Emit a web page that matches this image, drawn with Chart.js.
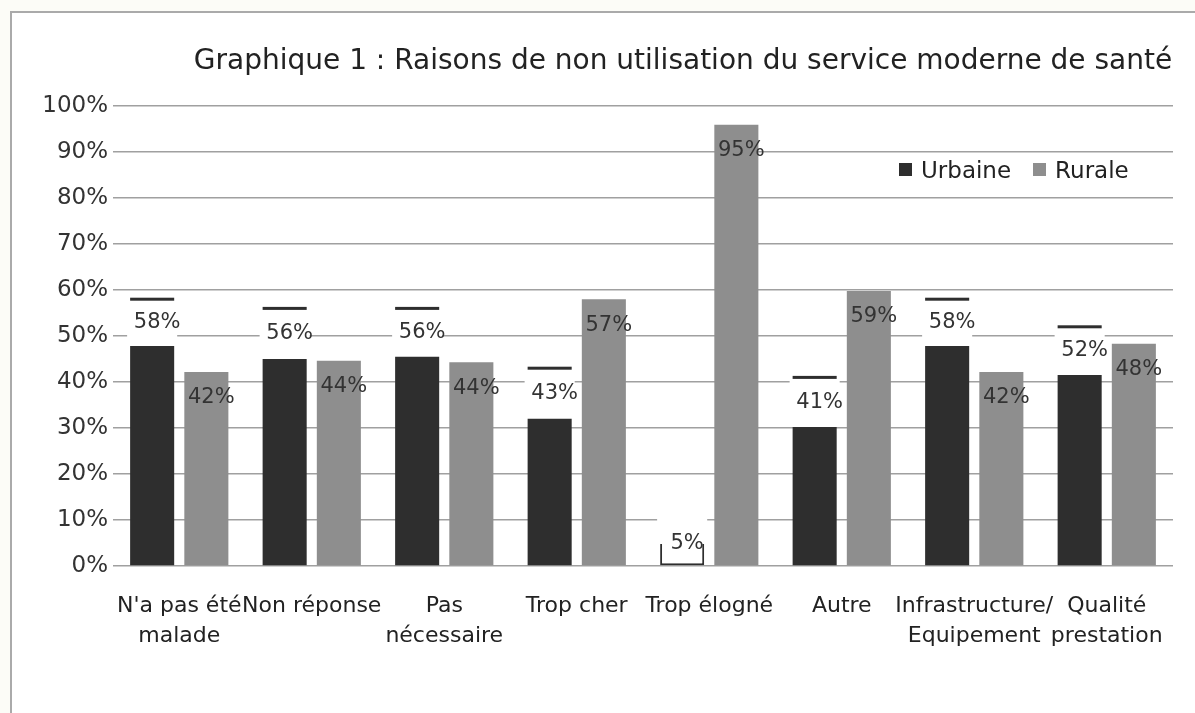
<!DOCTYPE html>
<html>
<head>
<meta charset="utf-8">
<script src="https://cdn.jsdelivr.net/npm/chart.js@4/dist/chart.umd.min.js"></script>
<style>
  body { margin: 0; background: #fcfcf7; font-family: 'DejaVu Sans', sans-serif; }
  #frame { position: absolute; left: 10px; top: 11px; width: 1200px; height: 720px;
           border-left: 2px solid #aaa; border-top: 2px solid #aaa; background: #fff; }
  #wrap { position: absolute; left: 0; top: 0; width: 1195px; height: 713px; }
  #title { position: absolute; left: 83px; width: 1200px; top: 42px; text-align: center;
           font-size: 28px; color: #222; line-height: 36px; }
  #legend { position: absolute; left: 899px; top: 155px; font-size: 23px; color: #222; line-height: 30px; white-space: nowrap; }
  #legend span.sw { display: inline-block; width: 13px; height: 13px; margin-right: 9px; vertical-align: 2px; }
  #legend span.item { margin-right: 22px; }
</style>
</head>
<body>
<div id="frame"></div>
<div id="wrap"><canvas id="chart" width="1195" height="713"></canvas></div>
<div id="title">Graphique 1 : Raisons de non utilisation du service moderne de santé</div>
<div id="legend"></div>
<script>
const categories = [
  ["N'a pas été", "malade"],
  ["Non réponse"],
  ["Pas", "nécessaire"],
  ["Trop cher"],
  ["Trop élogné"],
  ["Autre"],
  ["Infrastructure/", "Equipement"],
  ["Qualité", "prestation"]
];
const seriesNames = ['Urbaine', 'Rurale'];
// values printed on the chart
const urbaineValues = [58, 56, 56, 43, 5, 41, 58, 52];
const ruraleValues = [42, 44, 44, 57, 95, 59, 42, 48];
// heights the bars are actually drawn at in the picture
const urbaineBars = [47.8, 45, 45.5, 32, 4.8, 30.2, 47.8, 41.5];
const ruraleBars = [42.2, 44.6, 44.3, 58, 95.9, 59.8, 42.2, 48.3];
const yTicks = [0, 10, 20, 30, 40, 50, 60, 70, 80, 90, 100];

const dark = '#2e2e2e';
const grey = '#8e8e8e';

const isOpen = (i) => urbaineValues[i] - urbaineBars[i] < 2;

// legend
const colors = [dark, grey];
document.getElementById('legend').innerHTML = seriesNames.map((n, i) =>
  `<span class="item"><span class="sw" style="background:${colors[i]}"></span>${n}</span>`).join('');

const valueLabels = {
  id: 'valueLabels',
  afterDatasetsDraw(chart) {
    const ctx = chart.ctx;
    const y = chart.scales.y;
    ctx.save();
    ctx.font = '21px "DejaVu Sans"';
    ctx.textAlign = 'center';
    ctx.textBaseline = 'middle';

    chart.getDatasetMeta(0).data.forEach((bar, i) => {
      const left = bar.x - bar.width / 2;
      const v = urbaineValues[i];
      const top = Math.max(v, urbaineBars[i] + 5.5);
      // white patch between drawn bar and real value
      ctx.fillStyle = '#fff';
      ctx.fillRect(left - 3, y.getPixelForValue(top), bar.width + 6,
        y.getPixelForValue(urbaineBars[i]) - y.getPixelForValue(top) - 1);
      if (!isOpen(i)) {
        ctx.fillStyle = dark;
        ctx.fillRect(left, y.getPixelForValue(v) - 1.5, bar.width, 3);
      }
      ctx.fillStyle = '#333';
      ctx.fillText(v + '%', bar.x + 5, y.getPixelForValue((v + urbaineBars[i]) / 2));
    });

    ctx.fillStyle = '#333';
    chart.getDatasetMeta(1).data.forEach((bar, i) => {
      ctx.fillText(ruraleValues[i] + '%', bar.x + 5, bar.y + 26);
    });
    ctx.restore();
  }
};

new Chart(document.getElementById('chart'), {
  type: 'bar',
  data: {
    labels: categories,
    datasets: [
      {
        label: seriesNames[0],
        data: urbaineBars,
        backgroundColor: (c) => isOpen(c.dataIndex) ? '#fff' : dark,
        borderColor: dark,
        borderWidth: (c) => isOpen(c.dataIndex) ? { left: 2, right: 2, bottom: 2, top: 0 } : 0,
        borderSkipped: false
      },
      {
        label: seriesNames[1],
        data: ruraleBars,
        backgroundColor: grey
      }
    ]
  },
  options: {
    responsive: false,
    animation: false,
    categoryPercentage: 0.818,
    barPercentage: 0.813,
    layout: { padding: { top: 106, right: 22, left: 0, bottom: 0 } },
    plugins: {
      legend: { display: false },
      title: { display: false },
      tooltip: { enabled: false }
    },
    scales: {
      x: {
        afterFit: (s) => { s.height = 147; },
        grid: { display: false, drawTicks: false },
        border: { display: false },
        ticks: {
          autoSkip: false, maxRotation: 0, minRotation: 0, padding: 25,
          color: '#222', font: { family: 'DejaVu Sans', size: 22, lineHeight: 1.36 }
        }
      },
      y: {
        min: 0, max: 100,
        afterFit: (s) => { s.width = 113; },
        afterBuildTicks: (s) => { s.ticks = yTicks.map(v => ({ value: v })); },
        grid: { color: '#a0a0a0', lineWidth: 1.6, drawTicks: false },
        border: { display: false },
        ticks: {
          padding: 5,
          color: '#333',
          font: { family: 'DejaVu Sans', size: 23 },
          callback: (v) => v + '%'
        }
      }
    }
  },
  plugins: [valueLabels]
});
</script>
</body>
</html>
